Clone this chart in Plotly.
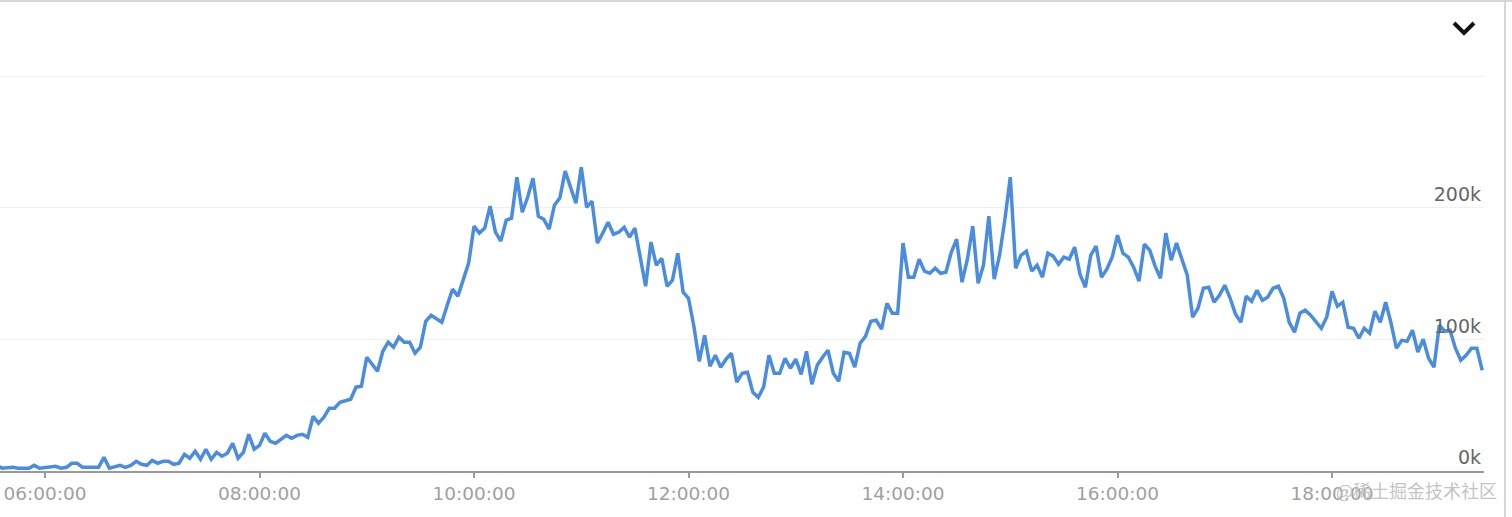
import plotly.graph_objects as go
import pandas as pd

# traffic over the day, 3-minute samples (values in thousands)
times = [
    "05:33", "05:36", "05:42", "05:45", "05:51", "05:54", "05:57", "06:00", "06:06", "06:09",
    "06:12", "06:15", "06:18", "06:21", "06:24", "06:30", "06:33", "06:36", "06:42", "06:45",
    "06:48", "06:51", "06:54", "06:57", "07:00", "07:03", "07:06", "07:09", "07:12", "07:15",
    "07:18", "07:21", "07:24", "07:27", "07:30", "07:33", "07:36", "07:39", "07:42", "07:45",
    "07:48", "07:51", "07:54", "07:57", "08:00", "08:03", "08:06", "08:09", "08:12", "08:15",
    "08:18", "08:21", "08:24", "08:27", "08:30", "08:33", "08:36", "08:39", "08:42", "08:45",
    "08:51", "08:54", "08:57", "09:00", "09:06", "09:09", "09:12", "09:15", "09:18", "09:21",
    "09:24", "09:27", "09:30", "09:33", "09:36", "09:42", "09:45", "09:48", "09:51", "09:54",
    "09:57", "10:00", "10:03", "10:06", "10:09", "10:12", "10:15", "10:18", "10:21", "10:24",
    "10:27", "10:30", "10:33", "10:36", "10:39", "10:42", "10:45", "10:48", "10:51", "10:54",
    "10:57", "11:00", "11:03", "11:06", "11:09", "11:12", "11:15", "11:18", "11:21", "11:24",
    "11:27", "11:30", "11:33", "11:36", "11:39", "11:42", "11:45", "11:48", "11:51", "11:54",
    "11:57", "12:00", "12:03", "12:06", "12:09", "12:12", "12:15", "12:18", "12:21", "12:24",
    "12:27", "12:30", "12:33", "12:36", "12:39", "12:42", "12:45", "12:48", "12:51", "12:54",
    "12:57", "13:00", "13:03", "13:06", "13:09", "13:12", "13:15", "13:18", "13:21", "13:24",
    "13:27", "13:30", "13:33", "13:36", "13:39", "13:42", "13:45", "13:48", "13:51", "13:54",
    "13:57", "14:00", "14:03", "14:06", "14:09", "14:12", "14:15", "14:18", "14:21", "14:24",
    "14:27", "14:30", "14:33", "14:36", "14:39", "14:42", "14:45", "14:48", "14:51", "14:54",
    "14:57", "15:00", "15:03", "15:06", "15:09", "15:12", "15:15", "15:18", "15:21", "15:24",
    "15:27", "15:30", "15:33", "15:36", "15:39", "15:42", "15:45", "15:48", "15:51", "15:54",
    "15:57", "16:00", "16:03", "16:06", "16:09", "16:12", "16:15", "16:18", "16:21", "16:24",
    "16:27", "16:30", "16:33", "16:36", "16:39", "16:42", "16:45", "16:48", "16:51", "16:54",
    "16:57", "17:00", "17:03", "17:06", "17:09", "17:12", "17:15", "17:18", "17:21", "17:24",
    "17:27", "17:30", "17:33", "17:36", "17:39", "17:42", "17:45", "17:48", "17:54", "17:57",
    "18:00", "18:03", "18:06", "18:09", "18:12", "18:15", "18:18", "18:21", "18:24", "18:27",
    "18:30", "18:33", "18:36", "18:39", "18:42", "18:45", "18:48", "18:51", "18:54", "18:57",
    "19:00", "19:03", "19:06", "19:09", "19:12", "19:15", "19:18", "19:21", "19:24",
]
values = [
    4.3, 2.1, 2.8, 2.1, 2.1, 4.3, 2.1, 2.8, 3.6, 2.1,
    2.8, 5.9, 5.9, 2.8, 2.8, 2.8, 10.4, 2.1, 4.3, 2.8,
    4.3, 7.4, 5.1, 4.3, 8.1, 5.9, 7.4, 7.4, 5.1, 5.9,
    12.7, 9.7, 15.0, 8.9, 16.5, 8.9, 14.2, 11.2, 13.5, 21.1,
    9.7, 14.2, 27.9, 16.5, 19.5, 28.7, 22.6, 21.1, 24.1, 27.1,
    24.9, 27.1, 27.9, 25.6, 41.6, 36.3, 40.8, 47.7, 47.7, 52.2,
    54.5, 63.7, 64.4, 86.5, 75.8, 91.0, 97.9, 94.1, 101.7, 97.9,
    97.9, 89.5, 94.1, 113.8, 118.4, 113.1, 126.0, 138.2, 132.9, 145.0,
    158.0, 186.1, 180.8, 184.6, 201.3, 181.5, 174.7, 190.6, 192.2, 223.3,
    196.7, 208.1, 222.5, 193.7, 191.4, 183.8, 202.0, 207.4, 227.9, 215.7,
    203.6, 230.9, 200.5, 205.1, 173.2, 180.8, 189.1, 180.0, 181.5, 185.3,
    177.7, 184.6, 164.0, 140.4, 174.0, 156.4, 161.7, 140.4, 145.0, 165.5,
    135.9, 131.3, 110.0, 83.4, 103.2, 79.6, 88.0, 78.9, 85.0, 89.5,
    67.5, 74.3, 75.1, 59.8, 56.0, 63.7, 88.0, 74.3, 74.3, 85.7,
    78.1, 85.0, 73.5, 91.0, 65.9, 80.4, 86.5, 91.8, 74.3, 68.2,
    90.3, 89.5, 78.9, 97.1, 102.4, 113.8, 114.6, 107.8, 127.5, 119.9,
    119.9, 173.2, 147.3, 147.3, 161.0, 151.9, 150.3, 154.1, 150.3, 151.1,
    166.3, 176.2, 143.5, 161.0, 186.1, 142.7, 156.4, 193.7, 145.8, 164.0,
    191.4, 223.3, 154.1, 164.0, 167.1, 151.9, 156.4, 147.3, 165.5, 163.3,
    157.2, 162.5, 161.0, 170.1, 149.6, 139.7, 164.0, 170.9, 147.3, 153.4,
    162.5, 179.2, 165.5, 162.5, 154.9, 144.3, 172.4, 167.8, 155.7, 146.5,
    180.8, 160.2, 173.2, 161.0, 148.8, 116.9, 123.7, 138.9, 139.7, 128.3,
    133.6, 141.2, 131.3, 119.2, 113.1, 132.9, 129.0, 137.4, 129.8, 132.1,
    138.9, 140.4, 131.3, 113.1, 105.5, 119.9, 122.2, 118.4, 108.5, 116.9,
    136.6, 125.2, 128.3, 109.3, 108.5, 100.9, 108.5, 104.7, 121.4, 113.1,
    128.3, 112.3, 93.3, 99.3, 98.6, 107.0, 90.3, 100.2, 85.7, 78.9,
    110.8, 106.2, 107.0, 93.3, 84.2, 88.0, 93.3, 93.3, 76.6,
]
y_ticks = [0, 100, 200, 300]
y_labels = ["0k", "100k", "200k", ""]

day = "2021-06-01 "
x = pd.to_datetime([day + t for t in times])

W, H = 1512, 517
ML, MR, MT, MB = 0, 28, 50, 46
plot_w = W - ML - MR
plot_h = H - MT - MB


def px(xp):
    return (xp - ML) / plot_w


def py(yp):
    return (H - MB - yp) / plot_h


fig = go.Figure()
fig.add_trace(go.Scatter(
    x=x, y=values, mode="lines",
    line=dict(color="#4a8de0", width=3.5),
    hoverinfo="skip",
))

fig.update_layout(
    width=W, height=H,
    margin=dict(l=ML, r=MR, t=MT, b=MB),
    paper_bgcolor="white", plot_bgcolor="white",
    showlegend=False,
    font=dict(family="DejaVu Sans"),
    xaxis=dict(
        type="date",
        range=[day + "05:34:50", day + "19:25:00"],
        tick0=day + "06:00", dtick=2 * 3600 * 1000,
        tickformat="%H:%M:%S",
        showgrid=False, zeroline=False,
        showline=True, linecolor="#9a9a9a", linewidth=2,
        ticks="outside", ticklen=5, tickwidth=1.5, tickcolor="#9a9a9a",
        tickfont=dict(size=18.5, color="#a0a0a0"),
    ),
    yaxis=dict(
        range=[0, 320], side="right",
        tickvals=y_ticks, ticktext=y_labels,
        ticklabelposition="inside top",
        showgrid=True, gridcolor="#f0f0f0", gridwidth=1,
        zeroline=False, showline=False, ticks="",
        tickfont=dict(size=19, color="#666666"),
    ),
    shapes=[
        # card border
        dict(type="line", xref="paper", yref="paper",
             x0=px(0), x1=px(W), y0=py(1), y1=py(1),
             line=dict(color="#d6d6d6", width=2)),
        dict(type="line", xref="paper", yref="paper",
             x0=px(1505), x1=px(1505), y0=py(0), y1=py(H),
             line=dict(color="#d6d6d6", width=2)),
        # chevron
        dict(type="path", xref="paper", yref="paper",
             path="M {},{} L {},{} L {},{}".format(px(1454), py(23), px(1464), py(33), px(1474), py(23)),
             line=dict(color="#111111", width=4)),
    ],
    annotations=[
        dict(text="@稀土掘金技术社区", xref="paper", yref="paper",
             x=px(1416), y=py(490), xanchor="center", yanchor="middle",
             showarrow=False,
             font=dict(family="Noto Sans CJK SC", size=18, color="#c4c4c4")),
    ],
)

fig.write_html("out.html", config={"displayModeBar": False},
               post_script="document.body.style.margin='0';")
